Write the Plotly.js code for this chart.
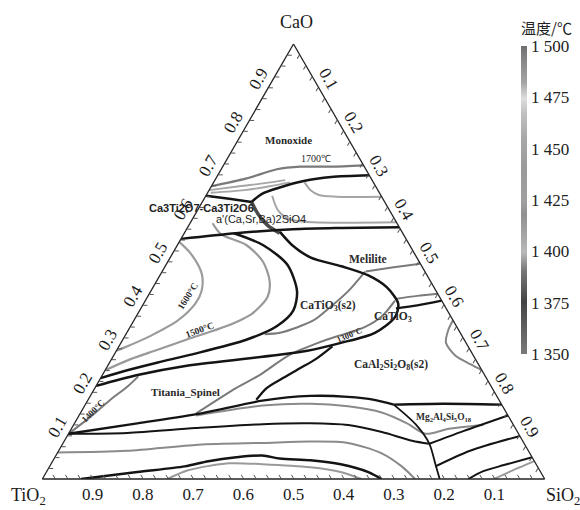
<!DOCTYPE html>
<html><head><meta charset="utf-8">
<script src="https://cdn.plot.ly/plotly-3.0.1.min.js"></script>
<style>html,body{margin:0;padding:0;background:#fff;}#chart{width:580px;height:510px;}</style>
</head><body><div id="chart"></div>
<script>
// ---- composition paths: [CaO, SiO2] (TiO2 = 1 - CaO - SiO2) ----
const iso1700 = [[0.673,0],[0.691,0.061],[0.712,0.111],[0.718,0.155],[0.718,0.216],[0.721,0.279]];
const isoMonoA = [[0.664,0],[0.673,0.056],[0.680,0.103],[0.687,0.140]];
const isoMonoB = [[0.658,0.006],[0.664,0.070],[0.673,0.116],[0.682,0.152]];
const bndMonoxide = [[0.698,0.302],[0.694,0.228],[0.685,0.178],[0.669,0.135],[0.655,0.109],[0.637,0.098]];
const bndCa3Ti2O7 = [[0.651,0],[0.644,0.050],[0.637,0.098]];
const isoLoopTop = [[0.682,0.181],[0.664,0.202],[0.653,0.224],[0.649,0.260],[0.649,0.351]];
const bndJunction = [[0.637,0.098],[0.610,0.124],[0.583,0.157],[0.565,0.190]];
const isoAprime = [[0.651,0.132],[0.617,0.161],[0.597,0.195],[0.590,0.245],[0.590,0.410]];
const bndAprime = [[0.552,0],[0.565,0.103],[0.574,0.212],[0.577,0.307],[0.579,0.421]];
const bndPerovLeft = [[0.565,0.099],[0.538,0.170],[0.493,0.241],[0.432,0.291],[0.387,0.306],[0.351,0.291],[0.320,0.246],[0.286,0.153],[0.268,0.096],[0.250,0.044],[0.232,0]];
const iso1600 = [[0.545,0],[0.516,0.039],[0.471,0.082],[0.432,0.101],[0.403,0.103],[0.365,0.088],[0.329,0.051],[0.302,0.012],[0.295,0]];
const iso1500 = [[0.588,0.045],[0.563,0.074],[0.538,0.137],[0.500,0.189],[0.455,0.225],[0.419,0.239],[0.381,0.228],[0.351,0.190],[0.324,0.134],[0.297,0.081],[0.275,0.037],[0.250,0]];
const bndCaTiO3s2 = [[0.568,0.189],[0.538,0.228],[0.509,0.280],[0.489,0.351],[0.468,0.415],[0.441,0.465],[0.403,0.507],[0.372,0.516],[0.336,0.494],[0.313,0.438],[0.295,0.380],[0.284,0.317],[0.261,0.160],[0.239,0.070],[0.214,0]];
const iso1400 = [[0.104,0],[0.144,0.025],[0.185,0.046],[0.212,0.063],[0.236,0.073]];
const iso1300 = [[0.410,0.497],[0.374,0.489],[0.349,0.467],[0.333,0.434],[0.315,0.396],[0.286,0.350],[0.239,0.313],[0.209,0.281],[0.151,0.231]];
const isoSpinel = [[0.146,0.233],[0.169,0.354],[0.173,0.447],[0.167,0.525],[0.153,0.599],[0.128,0.662],[0.104,0.711],[0.115,0.750],[0.124,0.816]];
const isoInner = [[0.477,0.404],[0.432,0.393],[0.396,0.376],[0.365,0.358],[0.336,0.305],[0.333,0.276]];
const isoMelilite = [[0.477,0.405],[0.486,0.453],[0.495,0.505]];
const isoCaTiO3 = [[0.414,0.495],[0.421,0.536],[0.426,0.574]];
const bndCaTiO3 = [[0.392,0.508],[0.399,0.547],[0.410,0.590]];
const isoRightLoop = [[0.365,0.635],[0.342,0.637],[0.313,0.647],[0.284,0.680],[0.264,0.720],[0.250,0.750]];
const bndSpinelTop = [[0.104,0],[0.128,0.125],[0.151,0.241],[0.180,0.348],[0.191,0.438],[0.189,0.514],[0.182,0.570],[0.171,0.614]];
const bndCordTop = [[0.171,0.614],[0.173,0.711],[0.171,0.829]];
const bndCordLeft = [[0.171,0.614],[0.126,0.680],[0.081,0.730],[0.032,0.767],[0,0.791]];
const bndArc3 = [[0.104,0],[0.106,0.116],[0.117,0.246],[0.126,0.375],[0.128,0.469],[0.124,0.547],[0.108,0.622],[0.088,0.692],[0.081,0.730]];
const bndArc3b = [[0.081,0.730],[0.110,0.783],[0.146,0.854]];
const isoArc4 = [[0.061,0],[0.065,0.136],[0.079,0.271],[0.083,0.397],[0.086,0.491],[0.083,0.567],[0.059,0.646],[0.029,0.701],[0,0.742]];
const bndArc5 = [[0,0.077],[0.016,0.181],[0.029,0.269],[0.041,0.310],[0.050,0.361],[0.054,0.411],[0.047,0.449],[0.043,0.512],[0.034,0.577],[0.016,0.641],[0,0.675]];
const isoArc6 = [[0,0.249],[0.020,0.280],[0.036,0.353],[0.034,0.421],[0.027,0.520],[0.016,0.586],[0,0.635]];
const bndCordMid = [[0.029,0.768],[0.065,0.819],[0.099,0.901]];
const bndCordLow = [[0,0.848],[0.018,0.869],[0.032,0.903],[0.050,0.950]];
const isoCordLow = [[0,0.899],[0.016,0.921],[0.041,0.959]];
const bndSpinelRise = [[0.182,0.335],[0.209,0.342],[0.232,0.363],[0.255,0.386],[0.275,0.406],[0.305,0.425]];

// ---- axis ticks ----
const tickValues = [0.1,0.2,0.3,0.4,0.5,0.6,0.7,0.8,0.9];
const tickLabels = ['0.1','0.2','0.3','0.4','0.5','0.6','0.7','0.8','0.9'];
const minorTickValues = [0.025,0.05,0.075,0.125,0.15,0.175,0.225,0.25,0.275,0.325,0.35,0.375,0.425,0.45,0.475,0.525,0.55,0.575,0.625,0.65,0.675,0.725,0.75,0.775,0.825,0.85,0.875,0.925,0.95,0.975];

// ---- colour bar ----
const tempTicks = [1350,1375,1400,1425,1450,1475,1500];
const tempLabels = ['1 350','1 375','1 400','1 425','1 450','1 475','1 500'];

const SERIF = 'Liberation Serif, Times New Roman, serif';
const SANS = 'Liberation Sans, Arial, sans-serif';
const BLACK = '#141414', DARK = '#4a4a4a', MID = '#7a7a7a', LIGHT = '#a6a6a6';

function path(pts, color, width) {
  return {type:'scatterternary', mode:'lines',
    a: pts.map(p => p[0]), c: pts.map(p => p[1]),
    line:{color:color, width:width, shape:'spline', smoothing:0.8},
    hoverinfo:'skip', showlegend:false};
}

const traces = [
  path(isoMonoB, LIGHT, 1.8), path(isoMonoA, LIGHT, 1.8), path(iso1700, MID, 2.2),
  path(isoLoopTop, LIGHT, 2), path(isoAprime, LIGHT, 2),
  path(iso1600, '#9c9c9c', 2.2), path(iso1500, '#999999', 2.2),
  path(iso1400, MID, 2), path(iso1300, MID, 2), path(isoSpinel, '#8a8a8a', 2),
  path(isoInner, MID, 2), path(isoMelilite, MID, 2), path(isoCaTiO3, MID, 2),
  path(isoRightLoop, '#858585', 2), path(isoArc4, '#8a8a8a', 2), path(isoArc6, '#9a9a9a', 2),
  path(isoCordLow, '#9a9a9a', 2),
  path(bndJunction, DARK, 3.5),
  path(bndMonoxide, BLACK, 2.5), path(bndCa3Ti2O7, BLACK, 2.5), path(bndAprime, BLACK, 2.5),
  path(bndPerovLeft, BLACK, 2.5), path(bndCaTiO3s2, BLACK, 2.5), path(bndCaTiO3, BLACK, 2.3),
  path(bndSpinelTop, BLACK, 2.3), path(bndSpinelRise, BLACK, 2.3),
  path(bndCordTop, BLACK, 2.3), path(bndCordLeft, BLACK, 1.8),
  path(bndArc3, BLACK, 2), path(bndArc3b, BLACK, 2), path(bndArc5, BLACK, 2.5),
  path(bndCordMid, BLACK, 2), path(bndCordLow, BLACK, 2),
  {type:'scatterternary', mode:'markers', a:[1,1], c:[0,0], hoverinfo:'skip', showlegend:false,
   marker:{size:1, opacity:0, color:[tempTicks[0], tempTicks[tempTicks.length-1]],
     cmin:tempTicks[0], cmax:tempTicks[tempTicks.length-1], showscale:true,
     colorscale:[[0,'#7a7a7a'],[0.1,'#5a5a5a'],[0.17,'#444444'],[0.27,'#777777'],[0.33,'#b8b8b8'],[0.45,'#909090'],[0.5,'#a0a0a0'],[0.6,'#9a9a9a'],[0.7,'#a8a8a8'],[0.78,'#c0c0c0'],[0.83,'#dedede'],[0.88,'#a5a5a5'],[0.95,'#888888'],[1,'#707070']],
     colorbar:{xref:'container', yref:'container', x:521/580, xanchor:'left', y:1-354/510, yanchor:'bottom',
       len:334/510, lenmode:'fraction', thickness:6, xpad:0, ypad:0, outlinewidth:0,
       tickmode:'array', tickvals:tempTicks, ticktext:tempLabels, ticks:'',
       tickfont:{family:SERIF, size:17, color:'#222'},
       title:{text:'温度/℃', side:'top', font:{family:'Noto Sans CJK SC', size:15, color:'#222'}}}}}
];

function axis(angle) {
  return {title:{text:''},
    tickmode:'array', tickvals:tickValues.concat(minorTickValues),
    ticktext:tickLabels.concat(minorTickValues.map(() => '')), tickangle:angle,
    tickfont:{family:SERIF, size:17, color:'#1a1a1a'},
    ticks:'inside', ticklen:4, tickwidth:1, tickcolor:'#555',
    showline:true, linecolor:'#222', linewidth:1.3, showgrid:false, min:0};
}

function label(text, x, y, size, opts) {
  return Object.assign({text:text, x:x/580, y:1-y/510, xref:'paper', yref:'paper', showarrow:false,
    xanchor:'center', yanchor:'middle', font:{family:SERIF, size:size, color:'#2a2a2a'}}, opts || {});
}

const annotations = [
  label('CaO', 296, 22, 18, {font:{family:SERIF, size:18, color:'#1a1a1a'}}),
  label('TiO<sub>2</sub>', 28, 496, 18, {font:{family:SERIF, size:18, color:'#1a1a1a'}}),
  label('SiO<sub>2</sub>', 544, 496, 18, {xanchor:'left', font:{family:SERIF, size:18, color:'#1a1a1a'}}),
  label('<b>Monoxide</b>', 288, 140, 11),
  label('1700℃', 316, 158, 10),
  label('<b>Ca3Ti2O7-Ca3Ti2O6</b>', 201, 208, 11, {font:{family:SANS, size:11, color:'#222'}}),
  label("a'(Ca,Sr,Ba)2SiO4", 261, 219, 11, {font:{family:SANS, size:11, color:'#222'}}),
  label('<b>Melilite</b>', 368, 259, 11.5),
  label('<b>1600°C</b>', 188, 296, 9.5, {textangle:-58}),
  label('<b>1500°C</b>', 200, 330, 9.5, {textangle:-20}),
  label('<b>CaTiO<sub>3</sub>(s2)</b>', 328, 306, 11.5),
  label('<b>CaTiO<sub>3</sub></b>', 393, 317, 11.5),
  label('<b>1300°C</b>', 349, 335, 8.5, {textangle:-23}),
  label('<b>CaAl<sub>2</sub>Si<sub>2</sub>O<sub>8</sub>(s2)</b>', 391, 365, 11.5),
  label('<b>Titania_Spinel</b>', 186, 392, 11),
  label('<b>1400°C</b>', 93, 411, 9, {textangle:-45}),
  label('<b>Mg<sub>2</sub>Al<sub>4</sub>Si<sub>5</sub>O<sub>18</sub></b>', 444, 417, 9.5)
];

const layout = {
  width:580, height:510, paper_bgcolor:'#fff',
  margin:{l:0, r:0, t:0, b:0, autoexpand:false},
  showlegend:false, hovermode:false,
  ternary:{sum:1, bgcolor:'rgba(0,0,0,0)',
    domain:{x:[42/580, 545/580], y:[31/510, 466/510]},
    aaxis:axis(-60), baxis:axis(0), caxis:axis(60)},
  annotations:annotations
};

Plotly.newPlot('chart', traces, layout, {displayModeBar:false, staticPlot:true});
</script></body></html>
